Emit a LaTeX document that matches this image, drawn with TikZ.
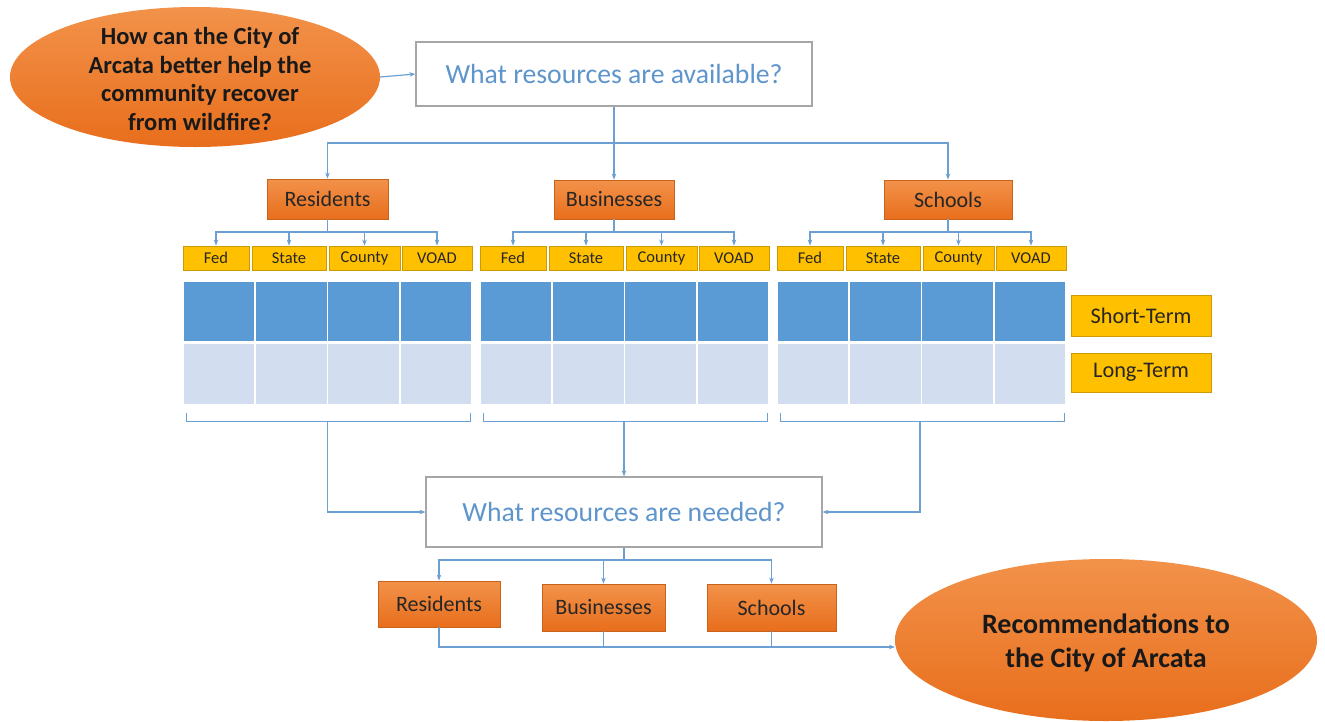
\documentclass[tikz,border=0pt]{standalone}
\usepackage{fontspec}
\setmainfont{Carlito}
\usetikzlibrary{arrows.meta,shapes.geometric}
\definecolor{lineblue}{HTML}{6C9FD2}
\definecolor{qtext}{HTML}{5E95CC}
\definecolor{darkcell}{HTML}{5B9BD5}
\definecolor{lightcell}{HTML}{D2DEEF}
\definecolor{yfill}{HTML}{FFC000}
\definecolor{yborder}{HTML}{CC9A06}
\definecolor{otop}{HTML}{F2924A}
\definecolor{obot}{HTML}{E86E1C}
\definecolor{oborder}{HTML}{C9631C}
\definecolor{gborder}{HTML}{A6A6A6}
\tikzset{
  conn/.style={draw=lineblue, line width=1.2pt},
  arr/.style={conn, -{Stealth[length=6pt,width=4.5pt]}},
  qbox/.style={draw=gborder, line width=1.2pt, fill=white, text=qtext, font=\fontsize{27.7}{32}\selectfont, minimum width=396pt, inner sep=0pt},
  obox/.style={draw=oborder, line width=0.8pt, top color=otop, bottom color=obot, font=\fontsize{22}{26}\selectfont, text=black!85, inner sep=0pt},
  ybox/.style={draw=yborder, line width=0.8pt, fill=yfill, font=\fontsize{16.5}{19}\selectfont, text=black!85, minimum height=24pt, inner sep=0pt},
  tbox/.style={draw=yborder, line width=0.8pt, fill=yfill, font=\fontsize{22.3}{26}\selectfont, text=black!85, minimum width=140pt, inner sep=0pt},
  oval/.style={ellipse, top color=otop, bottom color=obot, draw=none, inner sep=0pt},
  ovaltext/.style={font=\bfseries\fontsize{24.5}{28.5}\selectfont, align=center, text=black!90, inner sep=0pt}
}
\begin{document}
\begin{tikzpicture}[x=1pt,y=-1pt]
\useasboundingbox (0,0) rectangle (1325,721);

% top question ellipse
\node[oval, minimum width=370pt, minimum height=140pt] (q) at (195,77) {};
\node[ovaltext] (qt) at (200,79) {How can the City of\\Arcata better help the\\community recover\\from wildfire?};

% resources available
\node[qbox, minimum height=64pt] (av) at (614,74) {What resources are available?};
\draw[arr] (q.east) -- (av.west);

% categories
\node[obox, minimum width=121pt, minimum height=40pt] (r1) at (327.5,199) {Residents};
\node[obox, minimum width=120pt, minimum height=39pt] (b1) at (614,199.5) {Businesses};
\node[obox, minimum width=128pt, minimum height=39pt] (s1) at (948,199.5) {Schools};
\coordinate (avj) at (614,143);
\draw[conn] (av.south) -- (avj);
\draw[arr] (avj) -| (r1.north);
\draw[arr] (avj) -| (s1.north);
\draw[arr] (avj) -- (b1.north);

% sources per group
\foreach \g/\dx/\p in {r/0/r1, b/297/b1, s/594/s1}{
  \node[ybox, minimum width=66pt] (\g fed) at (216+\dx,258) {Fed};
  \node[ybox, minimum width=74pt] (\g sta) at (289+\dx,258) {State};
  \node[ybox, minimum width=71pt] (\g cou) at (364.5+\dx,258) {County};
  \node[ybox, minimum width=70pt] (\g voa) at (437+\dx,258) {VOAD};
  \coordinate (\g j) at (\p.south |- 0,232);
  \draw[conn] (\p.south) -- (\g j);
  \draw[arr] (\g j) -| (\g fed.north);
  \draw[arr] (\g j) -| (\g sta.north);
  \draw[arr] (\g j) -| (\g cou.north);
  \draw[arr] (\g j) -| (\g voa.north);
  % table cells
  \foreach \c in {0,1,2,3}{
    \fill[darkcell] ({183+\dx+\c*72.25+0.8},282) rectangle ({183+\dx+(\c+1)*72.25-0.8},341);
    \fill[lightcell] ({183+\dx+\c*72.25+0.8},344) rectangle ({183+\dx+(\c+1)*72.25-0.8},404);
  }
  % bracket
  \draw[conn, line width=1pt] (186+\dx,413) -- (186+\dx,421) -- (470+\dx,421) -- (470+\dx,413);
}

% term labels
\node[tbox, minimum height=41pt] (st) at (1141,315.5) {Short-Term};
\node[tbox, minimum height=39pt] (lt) at (1141,372.5) {Long-Term};

% resources needed
\node[qbox, minimum height=70pt] (nd) at (624,512) {What resources are needed?};
\coordinate (rb) at (327.5,421);
\coordinate (bb) at (624,421);
\coordinate (sb) at (920,421);
\draw[arr] (rb) |- (nd.west);
\draw[arr] (bb) -- (nd.north);
\draw[arr] (sb) |- (nd.east);

% needs categories
\node[obox, minimum width=122pt, minimum height=46pt] (r2) at (439,604) {Residents};
\node[obox, minimum width=123pt, minimum height=47pt] (b2) at (603.5,607.5) {Businesses};
\node[obox, minimum width=129pt, minimum height=47pt] (s2) at (771.5,607.5) {Schools};
\coordinate (ndj) at (624,560);
\draw[conn] (nd.south) -- (ndj);
\draw[arr] (ndj) -| (r2.north);
\draw[arr] (ndj) -| (b2.north);
\draw[arr] (ndj) -| (s2.north);

% recommendations
\node[oval, minimum width=422pt, minimum height=162pt] (rec) at (1106,640) {};
\node[ovaltext, font=\bfseries\fontsize{28}{34}\selectfont] (rect) at (1106,643) {Recommendations to\\the City of Arcata};
\coordinate (recin) at (895,647);
\draw[arr] (r2.south) |- (recin);
\draw[conn] (b2.south) -- (b2.south |- recin);
\draw[conn] (s2.south) -- (s2.south |- recin);
\end{tikzpicture}
\end{document}
